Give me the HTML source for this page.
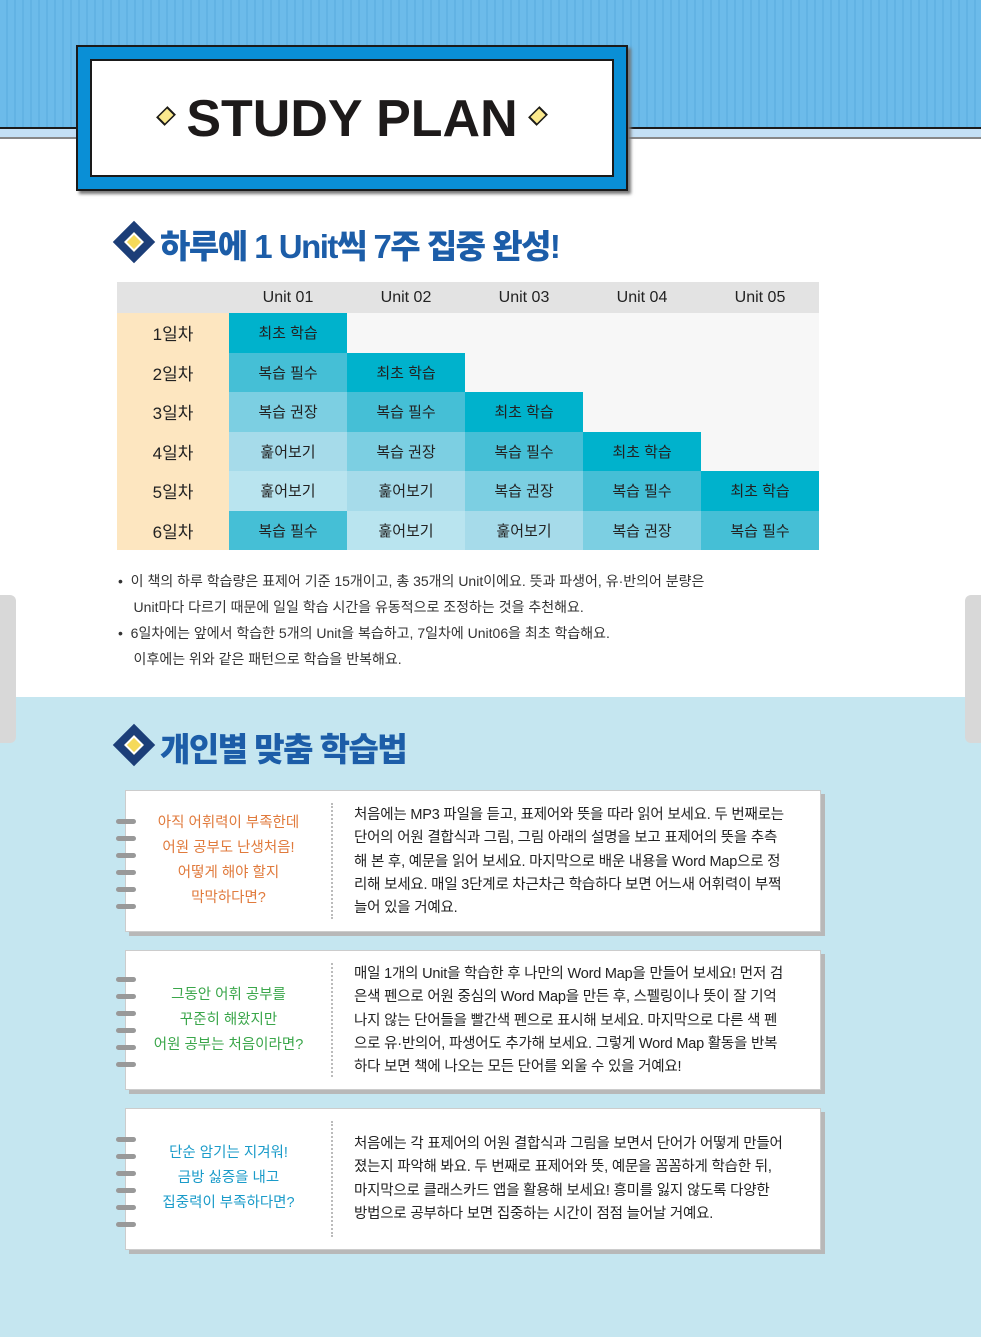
<!DOCTYPE html>
<html><head><meta charset="utf-8"><style>
*{margin:0;padding:0;box-sizing:border-box}
body{width:981px;height:1337px;position:relative;overflow:hidden;background:#fff;font-family:"Liberation Sans","Noto Sans CJK KR",sans-serif;}
.abs{position:absolute}
.stripes{left:0;top:0;width:981px;height:127px;background:repeating-linear-gradient(90deg,#6cbbea 0 6px,#62b3e4 6px 8px);}
.band{left:0;top:127px;width:981px;height:12px;background:#c4e0f5;border-top:2px solid #1a1a1a;border-bottom:2px solid #888}
.low{left:0;top:697px;width:981px;height:640px;background:#c5e6f0}
.tab{width:16px;height:148px;top:595px;background:#d8d8d8;border-radius:0 6px 6px 0}
.frame{left:76px;top:45px;width:552px;height:146px;background:#0a8fd6;border:2px solid #1a1a1a;box-shadow:3px 3px 3px #777}
.inner{position:absolute;left:12px;top:12px;right:12px;bottom:12px;background:#fff;border:2px solid #1a1a1a;text-align:center}
.title{font-weight:900;font-size:52px;line-height:116px;color:#1d1a1a;letter-spacing:0px}
.dia{display:inline-block;width:16px;height:16px;background:#fbe98c;border:2px solid #1a1a1a;transform:rotate(45deg) scaleX(.75);vertical-align:middle;margin:0 12px;position:relative;top:-6px}
h2{position:absolute;left:160px;font-size:33px;color:#1c5da8;font-weight:900;letter-spacing:-1.5px}
.ic{position:absolute;left:119px;width:30px;height:30px;background:#1c3e78;transform:rotate(45deg)}
.ic:after{content:"";position:absolute;left:8px;top:8px;width:10px;height:10px;background:#f5da5a;border:2px solid #fff}
table{position:absolute;left:117px;top:282px;border-collapse:collapse;font-size:15px;text-align:center}
td{height:39.5px;width:118px;color:#222}
td.d{width:112px;background:#fde6c0;font-size:17px;color:#222}
tr.h td{height:31px;background:#e3e3e3;font-size:16px}
.a{background:#00b2cc}.b{background:#45bfd6}.c{background:#7ccfe2}.e{background:#a6dbea}.f{background:#b9e4ef}.n{background:#f7f7f7}
.notes{left:118px;top:568px;font-size:14px;color:#333;line-height:26px}
.card{left:125px;width:696px;background:#fff;border:1px solid #ccc;box-shadow:4px 4px 0 #b8b8b8}
.lt{position:absolute;left:0;width:205px;text-align:center;font-size:14.5px;line-height:25px}
.dv{position:absolute;left:205px;top:12px;bottom:12px;border-left:2px dotted #bbb}
.rt{position:absolute;left:228px;font-size:14.5px;line-height:23.3px;color:#222;white-space:nowrap;letter-spacing:-0.2px}
.ring{position:absolute;left:-10px;width:20px;height:5px;border-radius:3px;background:#999}
</style></head><body>
<div class="abs stripes"></div>
<div class="abs band"></div>
<div class="abs low"></div>
<div class="abs tab" style="left:0"></div>
<div class="abs tab" style="left:965px;border-radius:6px 0 0 6px"></div>
<div class="abs frame"><div class="inner"><div class="title"><span class="dia"></span>STUDY PLAN<span class="dia"></span></div></div></div>

<div class="ic" style="top:227px"></div>
<h2 style="top:220px">하루에 1 Unit씩 7주 집중 완성!</h2>
<table>
<tr class="h"><td class="d" style="background:#e3e3e3"></td><td>Unit 01</td><td>Unit 02</td><td>Unit 03</td><td>Unit 04</td><td>Unit 05</td></tr>
<tr><td class="d">1일차</td><td class="a">최초 학습</td><td class="n"></td><td class="n"></td><td class="n"></td><td class="n"></td></tr>
<tr><td class="d">2일차</td><td class="b">복습 필수</td><td class="a">최초 학습</td><td class="n"></td><td class="n"></td><td class="n"></td></tr>
<tr><td class="d">3일차</td><td class="c">복습 권장</td><td class="b">복습 필수</td><td class="a">최초 학습</td><td class="n"></td><td class="n"></td></tr>
<tr><td class="d">4일차</td><td class="e">훑어보기</td><td class="c">복습 권장</td><td class="b">복습 필수</td><td class="a">최초 학습</td><td class="n"></td></tr>
<tr><td class="d">5일차</td><td class="f">훑어보기</td><td class="e">훑어보기</td><td class="c">복습 권장</td><td class="b">복습 필수</td><td class="a">최초 학습</td></tr>
<tr><td class="d">6일차</td><td class="b">복습 필수</td><td class="f">훑어보기</td><td class="e">훑어보기</td><td class="c">복습 권장</td><td class="b">복습 필수</td></tr>
</table>
<div class="abs notes">
• &nbsp;이 책의 하루 학습량은 표제어 기준 15개이고, 총 35개의 Unit이에요. 뜻과 파생어, 유·반의어 분량은<br>
&nbsp;&nbsp;&nbsp;&nbsp;Unit마다 다르기 때문에 일일 학습 시간을 유동적으로 조정하는 것을 추천해요.<br>
• &nbsp;6일차에는 앞에서 학습한 5개의 Unit을 복습하고, 7일차에 Unit06을 최초 학습해요.<br>
&nbsp;&nbsp;&nbsp;&nbsp;이후에는 위와 같은 패턴으로 학습을 반복해요.</div>

<div class="ic" style="top:730px"></div>
<h2 style="top:723px">개인별 맞춤 학습법</h2>

<div class="abs card" style="top:790px;height:142px">
<div class="ring" style="top:28px"></div><div class="ring" style="top:45px"></div><div class="ring" style="top:62px"></div><div class="ring" style="top:79px"></div><div class="ring" style="top:96px"></div><div class="ring" style="top:113px"></div>
<div class="lt" style="top:20px;color:#e07a3c">아직 어휘력이 부족한데<br>어원 공부도 난생처음!<br>어떻게 해야 할지<br>막막하다면?</div>
<div class="dv"></div>
<div class="rt" style="top:13px">처음에는 MP3 파일을 듣고, 표제어와 뜻을 따라 읽어 보세요. 두 번째로는<br>단어의 어원 결합식과 그림, 그림 아래의 설명을 보고 표제어의 뜻을 추측<br>해 본 후, 예문을 읽어 보세요. 마지막으로 배운 내용을 Word Map으로 정<br>리해 보세요. 매일 3단계로 차근차근 학습하다 보면 어느새 어휘력이 부쩍<br>늘어 있을 거예요.</div></div>

<div class="abs card" style="top:950px;height:140px">
<div class="ring" style="top:26px"></div><div class="ring" style="top:43px"></div><div class="ring" style="top:60px"></div><div class="ring" style="top:77px"></div><div class="ring" style="top:94px"></div><div class="ring" style="top:111px"></div>
<div class="lt" style="top:32px;color:#3aa64a">그동안 어휘 공부를<br>꾸준히 해왔지만<br>어원 공부는 처음이라면?</div>
<div class="dv"></div>
<div class="rt" style="top:12px">매일 1개의 Unit을 학습한 후 나만의 Word Map을 만들어 보세요! 먼저 검<br>은색 펜으로 어원 중심의 Word Map을 만든 후, 스펠링이나 뜻이 잘 기억<br>나지 않는 단어들을 빨간색 펜으로 표시해 보세요. 마지막으로 다른 색 펜<br>으로 유·반의어, 파생어도 추가해 보세요. 그렇게 Word Map 활동을 반복<br>하다 보면 책에 나오는 모든 단어를 외울 수 있을 거예요!</div></div>

<div class="abs card" style="top:1108px;height:142px">
<div class="ring" style="top:28px"></div><div class="ring" style="top:45px"></div><div class="ring" style="top:62px"></div><div class="ring" style="top:79px"></div><div class="ring" style="top:96px"></div><div class="ring" style="top:113px"></div>
<div class="lt" style="top:32px;color:#1a9bc9">단순 암기는 지겨워!<br>금방 싫증을 내고<br>집중력이 부족하다면?</div>
<div class="dv"></div>
<div class="rt" style="top:24px">처음에는 각 표제어의 어원 결합식과 그림을 보면서 단어가 어떻게 만들어<br>졌는지 파악해 봐요. 두 번째로 표제어와 뜻, 예문을 꼼꼼하게 학습한 뒤,<br>마지막으로 클래스카드 앱을 활용해 보세요! 흥미를 잃지 않도록 다양한<br>방법으로 공부하다 보면 집중하는 시간이 점점 늘어날 거예요.</div></div>
</body></html>
